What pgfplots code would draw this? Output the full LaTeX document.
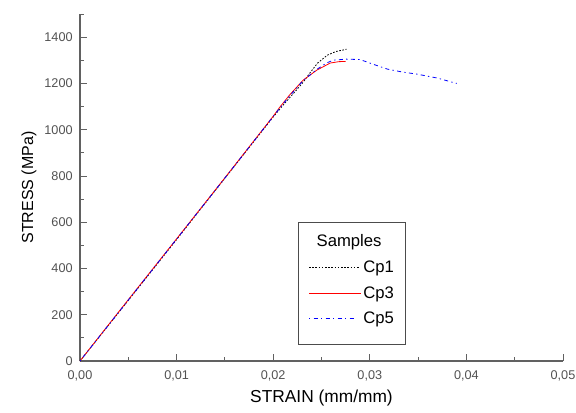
\documentclass[border=0pt]{standalone}
\usepackage{fontspec}
\setmainfont{Liberation Sans}
\usepackage{pgfplots}
\pgfplotsset{compat=1.18}

\begin{document}
\begin{tikzpicture}
    \useasboundingbox (-60pt,-38.25pt) rectangle (372pt,270.75pt);
    \begin{axis}[
        scale only axis,
        width=362.25pt,
        height=260.25pt,
        xmin=0, xmax=0.05,
        ymin=0, ymax=1500,
        axis x line*=bottom,
        axis y line*=left,
        axis line style={black!62, line width=0.9pt},
        tick style={black!62, line width=0.6pt},
        tick align=inside,
        major tick length=5pt,
        minor tick length=3pt,
        xtick={0,0.01,0.02,0.03,0.04,0.05},
        minor xtick={0.005,0.015,0.025,0.035,0.045},
        ytick={0,200,400,600,800,1000,1200,1400},
        minor ytick={100,300,500,700,900,1100,1300,1500},
        scaled x ticks=false,
        scaled y ticks=false,
        ticklabel style={font=\fontsize{9.5}{11}\selectfont, text=black!68},
        x tick label style={yshift=-3.5pt, /pgf/number format/.cd, fixed, fixed zerofill, precision=2, use comma, assume math mode=true},
        y tick label style={xshift=-2pt, /pgf/number format/.cd, 1000 sep={}, assume math mode=true},
        xlabel={STRAIN (mm/mm)},
        ylabel={STRESS (MPa)},
        every axis x label/.style={at={(axis description cs:0.5,-0.1066)}, anchor=center,
            font=\fontsize{13}{15}\selectfont},
        every axis y label/.style={at={(axis description cs:-0.1056,0.5)}, rotate=90, anchor=center,
            font=\fontsize{12}{14}\selectfont},
        legend style={at={(axis cs:0.0226,600)}, anchor=north west,
            draw=black!70, line width=0.7pt,
            font=\fontsize{12.5}{14}\selectfont,
            row sep=5pt, inner xsep=7pt, inner ysep=7pt},
        legend cell align=left,
    ]

    % Cp1
    \addplot[forget plot, draw=black, line width=0.6pt, dash pattern=on 1.2pt off 1.2pt]
        coordinates {
            (0,0) (0.005,262) (0.010,525) (0.015,790) (0.020,1055)
            (0.021,1105) (0.022,1152) (0.023,1200) (0.0238,1245)
            (0.0246,1288) (0.0256,1322) (0.0265,1338) (0.0272,1344)
            (0.0276,1348)
        };

    % Cp3
    \addplot[forget plot, draw=red, line width=0.6pt]
        coordinates {
            (0,0) (0.005,265) (0.010,528) (0.015,792) (0.020,1058)
            (0.0207,1098) (0.0217,1150) (0.0231,1214) (0.0245,1257)
            (0.0259,1288) (0.0268,1294) (0.0275,1295)
        };

    % Cp5
    \addplot[forget plot, draw=blue, line width=0.6pt, dash pattern=on 1pt off 2.5pt on 3pt off 2.5pt]
        coordinates {
            (0,0) (0.005,263) (0.010,527) (0.015,791) (0.020,1057)
            (0.0210,1110) (0.0220,1160) (0.0231,1212) (0.0245,1260)
            (0.0255,1288) (0.0262,1300) (0.0275,1305) (0.0290,1303)
            (0.0300,1288) (0.0318,1262) (0.0334,1249) (0.0349,1240)
            (0.0370,1223) (0.0390,1200)
        };

    % legend: title row, then one line sample per series
    \addlegendimage{legend image code/.code={}}
    \addlegendentry{\makebox[0pt][l]{\hspace*{-35pt}Samples}}
    \addlegendimage{legend image code/.code={\node[inner sep=0pt, anchor=base west] at (0,0)
        {\textcolor{black}{\leaders\hbox to 2.4pt{\rule[-0.3pt]{1.2pt}{0.6pt}\hss}\hskip 1.36cm}};}}
    \addlegendentry{Cp1}
    \addlegendimage{legend image code/.code={\node[inner sep=0pt, anchor=base west] at (0,0)
        {\textcolor{red}{\rule[-0.35pt]{1.36cm}{0.7pt}}};}}
    \addlegendentry{Cp3}
    \addlegendimage{legend image code/.code={\node[inner sep=0pt, anchor=base west] at (0,0)
        {\textcolor{blue}{\leaders\hbox to 9pt{\rule[-0.3pt]{1pt}{0.6pt}\hskip 2.5pt\rule[-0.3pt]{3pt}{0.6pt}\hss}\hskip 1.36cm}};
        \path (0,-12pt);}}
    \addlegendentry{Cp5}

    \end{axis}
\end{tikzpicture}
\end{document}
